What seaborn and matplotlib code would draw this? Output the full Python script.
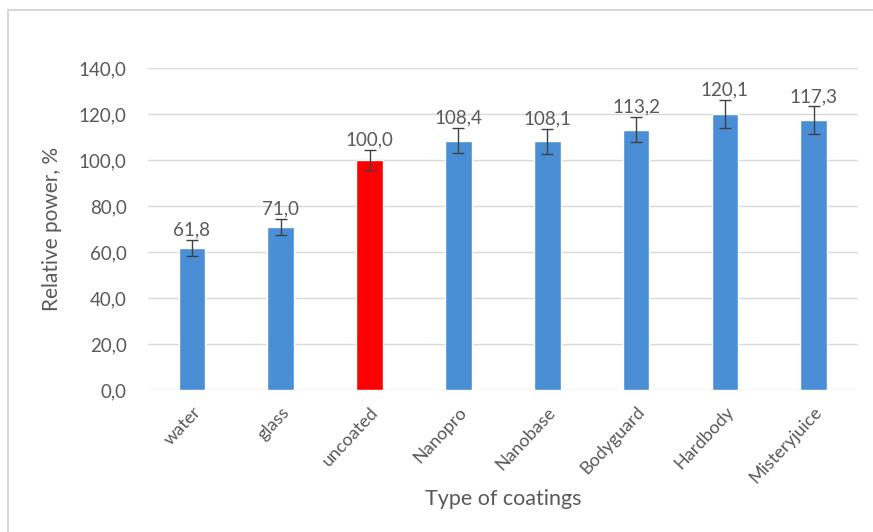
import matplotlib
matplotlib.use("Agg")
import matplotlib.pyplot as plt
import seaborn as sns
import pandas as pd
from matplotlib.patches import Rectangle

# chart data
coatings = ["water", "glass", "uncoated", "Nanopro", "Nanobase", "Bodyguard", "Hardbody", "Misteryjuice"]
power = [61.8, 71.0, 100.0, 108.4, 108.1, 113.2, 120.1, 117.3]
errors = [3.5, 3.5, 4.5, 5.5, 5.5, 5.5, 6.0, 6.0]
bar_colors = ["#4a8fd6", "#4a8fd6", "#ff0000", "#4a8fd6", "#4a8fd6", "#4a8fd6", "#4a8fd6", "#4a8fd6"]
y_ticks = [0, 20, 40, 60, 80, 100, 120, 140]

df = pd.DataFrame({"coating": coatings, "power": power})

sns.set_style("white")
plt.rcParams["font.family"] = ["Lato", "DejaVu Sans"]
text_color = "#595959"

fig = plt.figure(figsize=(8.73, 5.32), dpi=100)
ax = fig.add_axes([0.169, 0.267, 0.814, 0.605])

sns.barplot(data=df, x="coating", y="power", hue="coating", palette=bar_colors,
            legend=False, errorbar=None, width=0.3, ax=ax, zorder=3, saturation=1)

ax.errorbar(range(len(coatings)), power, yerr=errors, fmt="none",
            ecolor="#404040", elinewidth=1, capsize=4, capthick=1, zorder=4)

# value labels above the error bars
for i, (v, e) in enumerate(zip(power, errors)):
    ax.annotate(f"{v:.1f}".replace(".", ","), (i, v + e), xytext=(0, 1),
                textcoords="offset points", ha="center", va="bottom",
                fontsize=13.5, color=text_color)

ax.set_ylim(0, 140)
ax.set_xlim(-0.5, len(coatings) - 0.5)
ax.set_yticks(y_ticks)
ax.set_yticklabels([f"{t:.1f}".replace(".", ",") for t in y_ticks], fontsize=13.5, color=text_color)
ax.set_xticks(range(len(coatings)))
ax.set_xticklabels(coatings, rotation=47, ha="right", rotation_mode="anchor",
                   fontsize=13, color=text_color)
ax.tick_params(axis="y", length=0, pad=15)
ax.tick_params(axis="x", length=0, pad=10)
ax.yaxis.grid(True, color="#d9d9d9", linewidth=1, zorder=0)
ax.set_axisbelow(True)
for s in ax.spines.values():
    s.set_visible(False)

ax.set_xlabel("Type of coatings", fontsize=15.5, color=text_color, labelpad=2)
ax.set_ylabel("Relative power, %", fontsize=15, color=text_color, labelpad=12)

# chart frame
fig.patches.append(Rectangle((0.009, -0.01), 1.0, 0.992, transform=fig.transFigure,
                             fill=False, edgecolor="#d0d0d0", linewidth=1.2))

fig.savefig("out.png", dpi=100)
